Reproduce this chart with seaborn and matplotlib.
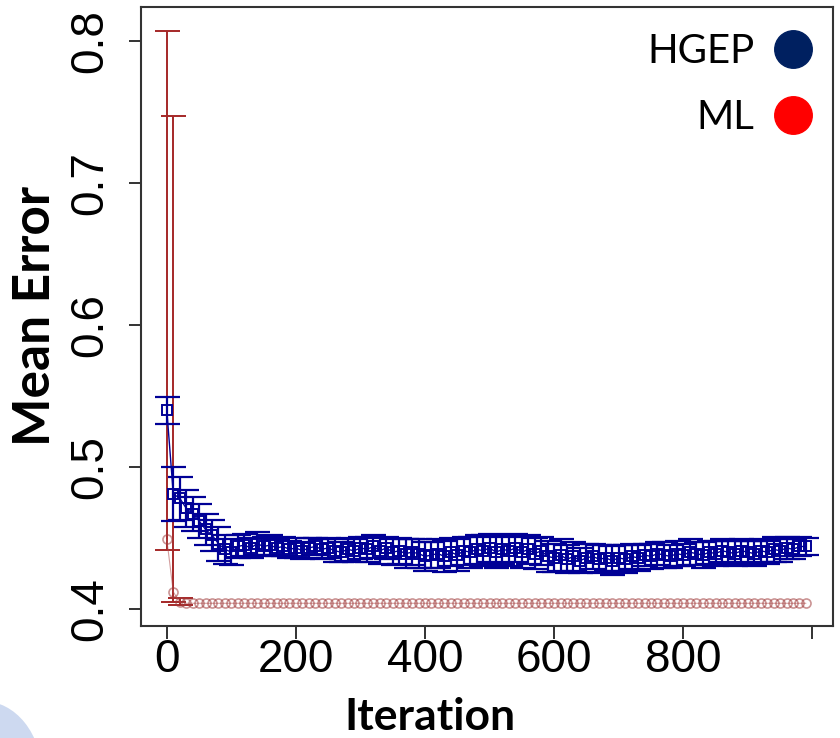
import numpy as np
import pandas as pd
import matplotlib
matplotlib.use("Agg")
import matplotlib.pyplot as plt
from matplotlib.lines import Line2D
from matplotlib.patches import Ellipse
import seaborn as sns

# Adatok
iterations = list(range(0, 1000, 10))

hgep_mean = [
    0.540, 0.481, 0.478, 0.471, 0.467, 0.462, 0.456, 0.452, 0.446, 0.442,
    0.440, 0.444, 0.445, 0.443, 0.446, 0.444, 0.445, 0.443, 0.444, 0.442,
    0.443, 0.441, 0.443, 0.444, 0.442, 0.443, 0.441, 0.440, 0.442, 0.441,
    0.443, 0.442, 0.444, 0.441, 0.443, 0.440, 0.441, 0.439, 0.440, 0.439,
    0.437, 0.438, 0.439, 0.437, 0.440, 0.438, 0.441, 0.440, 0.442, 0.441,
    0.443, 0.440, 0.442, 0.441, 0.443, 0.440, 0.442, 0.439, 0.441, 0.437,
    0.436, 0.438, 0.435, 0.437, 0.434, 0.436, 0.437, 0.435, 0.436, 0.434,
    0.436, 0.435, 0.437, 0.436, 0.438, 0.437, 0.439, 0.438, 0.437, 0.439,
    0.438, 0.440, 0.439, 0.438, 0.440, 0.439, 0.441, 0.440, 0.439, 0.441,
    0.440, 0.439, 0.441, 0.440, 0.442, 0.441, 0.443, 0.442, 0.444, 0.444,
]
hgep_err = [
    0.0095, 0.019, 0.015, 0.013, 0.012, 0.012, 0.011, 0.011, 0.012, 0.010,
    0.009, 0.008, 0.008, 0.007, 0.008, 0.007, 0.007, 0.006, 0.007, 0.006,
    0.007, 0.006, 0.007, 0.006, 0.007, 0.007, 0.008, 0.007, 0.008, 0.008,
    0.008, 0.009, 0.008, 0.009, 0.008, 0.009, 0.009, 0.010, 0.009, 0.010,
    0.010, 0.009, 0.010, 0.011, 0.010, 0.011, 0.010, 0.011, 0.010, 0.011,
    0.010, 0.011, 0.010, 0.011, 0.010, 0.011, 0.010, 0.011, 0.010, 0.011,
    0.010, 0.011, 0.010, 0.010, 0.009, 0.010, 0.009, 0.010, 0.009, 0.010,
    0.009, 0.010, 0.009, 0.009, 0.008, 0.009, 0.008, 0.009, 0.008, 0.009,
    0.008, 0.009, 0.008, 0.009, 0.008, 0.009, 0.008, 0.008, 0.009, 0.008,
    0.008, 0.009, 0.008, 0.008, 0.009, 0.008, 0.008, 0.007, 0.007, 0.006,
]

ml_mean = [
    0.449, 0.412, 0.405, 0.404, 0.404, 0.404, 0.404, 0.404, 0.404, 0.404,
    0.404, 0.404, 0.404, 0.404, 0.404, 0.404, 0.404, 0.404, 0.404, 0.404,
    0.404, 0.404, 0.404, 0.404, 0.404, 0.404, 0.404, 0.404, 0.404, 0.404,
    0.404, 0.404, 0.404, 0.404, 0.404, 0.404, 0.404, 0.404, 0.404, 0.404,
    0.404, 0.404, 0.404, 0.404, 0.404, 0.404, 0.404, 0.404, 0.404, 0.404,
    0.404, 0.404, 0.404, 0.404, 0.404, 0.404, 0.404, 0.404, 0.404, 0.404,
    0.404, 0.404, 0.404, 0.404, 0.404, 0.404, 0.404, 0.404, 0.404, 0.404,
    0.404, 0.404, 0.404, 0.404, 0.404, 0.404, 0.404, 0.404, 0.404, 0.404,
    0.404, 0.404, 0.404, 0.404, 0.404, 0.404, 0.404, 0.404, 0.404, 0.404,
    0.404, 0.404, 0.404, 0.404, 0.404, 0.404, 0.404, 0.404, 0.404, 0.404,
]
# az első ML pontok hibasávjai (alsó / felső határ); a többi elhanyagolható
ml_lower_first = [0.4415, 0.405, 0.403]
ml_upper_first = [0.807, 0.747, 0.408]

x_ticks = [0, 200, 400, 600, 800, 1000]
x_ticklabels = ["0", "200", "400", "600", "800", ""]
y_ticks = [0.4, 0.5, 0.6, 0.7, 0.8]
y_ticklabels = ["0.4", "0.5", "0.6", "0.7", "0.8"]

# Beállítások
sns.set_style("white")
plt.rcParams["font.family"] = ["Liberation Sans", "DejaVu Sans"]
plt.rcParams.update({"text.color": "black", "axes.labelcolor": "black",
                     "xtick.color": "black", "ytick.color": "black"})

hgep_col = "#000096"
ml_col = "#a52828"

df = pd.DataFrame({
    "Iteration": iterations * 2,
    "Mean Error": hgep_mean + ml_mean,
    "Method": ["HGEP"] * len(iterations) + ["ML"] * len(iterations),
})

fig = plt.figure(figsize=(8.4, 7.38), dpi=100)
ax = fig.add_axes([141 / 840, 1 - 626 / 738, 692 / 840, 619 / 738])

# ML hibasávok (csak az első pontoknál látható)
n = len(ml_lower_first)
m_first = np.array(ml_mean[:n])
ax.errorbar(iterations[:n], m_first,
            yerr=[m_first - np.array(ml_lower_first), np.array(ml_upper_first) - m_first],
            fmt="none", ecolor=ml_col, elinewidth=1.4, capsize=9, capthick=1.4, zorder=2)

# HGEP hibasávok
ax.errorbar(iterations, hgep_mean, yerr=hgep_err, fmt="none", ecolor=hgep_col,
            elinewidth=1.6, capsize=9, capthick=1.6, zorder=3)

sns.lineplot(data=df[df["Method"] == "ML"], x="Iteration", y="Mean Error", ax=ax,
             color="#b05050", linewidth=0.8, alpha=0.55, marker="o", markersize=6.5,
             markerfacecolor="none", markeredgecolor="#a03c3c", markeredgewidth=1.2,
             legend=False, zorder=2)
sns.lineplot(data=df[df["Method"] == "HGEP"], x="Iteration", y="Mean Error", ax=ax,
             color=hgep_col, linewidth=1.0, marker="s", markersize=7.5,
             markerfacecolor="none", markeredgecolor=hgep_col, markeredgewidth=1.4,
             legend=False, zorder=4)

ax.set_xlim(-40, 1032)
ax.set_ylim(0.388, 0.824)
ax.set_xticks(x_ticks)
ax.set_xticklabels(x_ticklabels, fontsize=33)
ax.set_yticks(y_ticks)
ax.set_yticklabels(y_ticklabels, fontsize=33, rotation=90, va="center")
ax.tick_params(axis="both", direction="out", length=9, width=1.3, color="#222222",
               bottom=True, left=True)
ax.tick_params(axis="x", pad=0)
ax.tick_params(axis="y", pad=12)
for s in ax.spines.values():
    s.set_color("#333333")
    s.set_linewidth(1.5)
    s.set_visible(True)

ax.set_xlabel("Iteration", fontsize=32, fontweight="bold", family="Lato", va="center")
ax.xaxis.set_label_coords((430 - 141) / 692, (626 - 717) / 619)
ax.set_ylabel("Mean Error", fontsize=37, fontweight="bold", family="Lato", va="center")
ax.yaxis.set_label_coords((35 - 141) / 692, 0.5)

# Jelmagyarázat
handles = [
    Line2D([], [], linestyle="none", marker="o", markersize=27,
           markerfacecolor="#002060", markeredgecolor="#002060"),
    Line2D([], [], linestyle="none", marker="o", markersize=27,
           markerfacecolor="#ff0000", markeredgecolor="#ff0000"),
]
ax.legend(handles, ["HGEP", "ML"], loc="upper right", bbox_to_anchor=(1.012, 1.003),
          frameon=False, markerfirst=False, prop={"family": "Lato", "size": 29},
          handletextpad=0.45, labelspacing=0.72, borderaxespad=0.3, handlelength=1.0)

# háttér díszítés (dia sarkai)
fig.patches.append(Ellipse((-0.02, -0.05), 0.14, 0.2, transform=fig.transFigure,
                           facecolor="#cdd9f0", edgecolor="none", zorder=-1))
fig.patches.append(Ellipse((1.02, -0.03), 0.06, 0.08, transform=fig.transFigure,
                           facecolor="#cdd9f0", edgecolor="none", zorder=-1))

plt.savefig("out.png", dpi=100)
plt.close()
